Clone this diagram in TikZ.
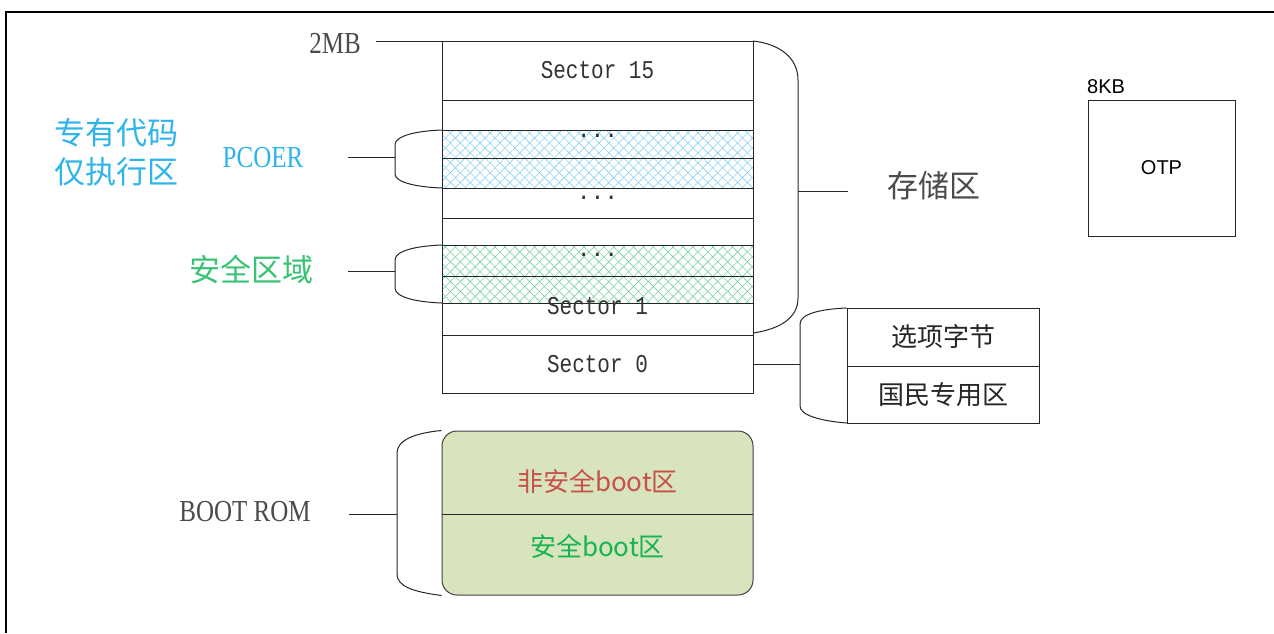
\documentclass[tikz,border=0pt]{standalone}
\usepackage{fontspec}
\setmainfont{Liberation Serif}
\newfontfamily\cjk{Noto Sans CJK SC}
\newfontfamily\lmono{Liberation Mono}
\newfontfamily\lsans{Liberation Sans}
\usetikzlibrary{patterns.meta}
\definecolor{cblue}{RGB}{45,180,235}
\definecolor{cgreen}{RGB}{55,195,115}
\definecolor{cred}{RGB}{200,80,75}
\definecolor{cbootg}{RGB}{20,180,80}
\definecolor{cgray}{RGB}{75,75,75}
\definecolor{bootfill}{RGB}{215,228,189}
\definecolor{hblue}{RGB}{140,210,242}
\definecolor{hgreen}{RGB}{120,210,165}
\newcommand{\tallx}[1]{\scalebox{1}[1.22]{#1}}
\tikzset{
  memrow/.style={draw=black!85, line width=1pt, minimum width=311pt, inner sep=0pt, outer sep=0pt,
    font=\lmono\fontsize{21}{21}\selectfont, text=black!80},
  monotxt/.style={font=\lmono\fontsize{21}{21}\selectfont, text=black!80, inner sep=0pt},
  dotstxt/.style={font=\lmono\fontsize{23}{23}\selectfont, text=black!80, inner sep=0pt},
  hatchB/.style={preaction={pattern={Lines[angle=45,distance=7pt,line width=0.6pt]},pattern color=hblue},
                 preaction={pattern={Lines[angle=-45,distance=7pt,line width=0.6pt]},pattern color=hblue}},
  hatchG/.style={preaction={pattern={Lines[angle=45,distance=7pt,line width=0.6pt]},pattern color=hgreen},
                 preaction={pattern={Lines[angle=-45,distance=7pt,line width=0.6pt]},pattern color=hgreen}},
  brace/.style={draw=black!85, line width=1pt},
  conn/.style={draw=black!85, line width=1pt},
  cjkbig/.style={font=\cjk\fontsize{31}{39}\selectfont, inner sep=0pt},
  cjkmid/.style={font=\cjk\fontsize{26}{26}\selectfont, inner sep=0pt},
  serifl/.style={font=\fontsize{25}{25}\selectfont, inner sep=0pt},
  optbox/.style={draw=black!85, line width=1pt, minimum width=192pt, inner sep=0pt, outer sep=0pt, font=\cjk\fontsize{26}{26}\selectfont, text=black!85},
}
\begin{document}
\begin{tikzpicture}[x=1pt,y=-1pt]
\useasboundingbox (0,0) rectangle (1274,633);
\fill[white] (0,0) rectangle (1274,633);
\draw[line width=2pt] (6,633) -- (6,12) -- (1274,12);

% memory column
\node[memrow, minimum height=59pt] (s15) at (597.5,70.5) {\tallx{Sector 15}};
\node[memrow, minimum height=30pt] (r2) at (597.5,115) {};
\node[memrow, minimum height=28pt, hatchB] (b1) at (597.5,144) {};
\node[memrow, minimum height=30pt, hatchB] (b2) at (597.5,173) {};
\node[memrow, minimum height=30pt] (r5) at (597.5,203) {};
\node[memrow, minimum height=27pt] (r6) at (597.5,231.5) {};
\node[memrow, minimum height=31pt, hatchG] (g1) at (597.5,260.5) {};
\node[memrow, minimum height=27pt, hatchG] (g2) at (597.5,289.5) {};
\node[memrow, minimum height=32pt] (s1) at (597.5,319) {};
\node[memrow, minimum height=58pt] (s0) at (597.5,364) {\tallx{Sector 0}};
\node[dotstxt, anchor=base] (dA) at (597.5,137) {...};
\node[dotstxt, anchor=base] (dB) at (597.5,199) {...};
\node[dotstxt, anchor=base] (dC) at (597.5,256) {...};
\node[monotxt] (s1t) at (597.5,306) {\tallx{Sector 1}};

% 2MB
\node[serifl, text=cgray] (mb) at (335,43) {\tallx{2MB}};
\coordinate (mbl) at (376,41);
\draw[conn] (mbl) -- (s15.north west);

% PCOER
\node[cjkbig, text=cblue, align=left] (zy) at (116,152) {专有代码\\仅执行区};
\node[serifl, text=cblue] (pcoer) at (263,158) {\tallx{PCOER}};
\coordinate (pcl) at (348,157);
\coordinate (pct) at (395,157);
\draw[conn] (pcl) -- (pct);
\draw[brace] (b1.north west) .. controls (415,131) and (395,136) .. (395,145) -- (395,174) .. controls (395,182) and (415,187) .. (b2.south west);

% secure area
\node[cjkbig, text=cgreen] (aq) at (251,270) {安全区域};
\coordinate (aql) at (348,271);
\coordinate (aqt) at (395,271);
\draw[conn] (aql) -- (aqt);
\draw[brace] (g1.north west) .. controls (415,246) and (395,251) .. (395,260) -- (395,288) .. controls (395,297) and (415,302) .. (g2.south west);

% storage brace
\draw[brace] (s15.north east) .. controls (780,44) and (798,58) .. (798,80) -- (798,298) .. controls (798,318) and (780,329) .. (753,333);
\coordinate (cqa) at (798,191);
\coordinate (cqb) at (848,191);
\draw[conn] (cqa) -- (cqb);
\node[cjkbig, text=cgray] (cq) at (934,186) {存储区};

% option bytes
\node[optbox, minimum height=58pt] (opt1) at (943,337) {选项字节};
\node[optbox, minimum height=57pt] (opt2) at (943,394.5) {国民专用区};
\coordinate (opb) at (800,364);
\draw[conn] (s0.east) -- (opb);
\draw[brace] (opt1.north west) .. controls (820,309) and (800,314) .. (800,324) -- (800,406) .. controls (800,415) and (820,421) .. (opt2.south west);

% OTP
\node[draw=black!85, line width=1pt, minimum width=147pt, minimum height=136pt, inner sep=0pt, font=\lsans\fontsize{20}{20}\selectfont] (otp) at (1161.5,168) {OTP};
\node[font=\lsans\fontsize{20}{20}\selectfont, anchor=base west, inner sep=0pt] (kb) at (1087,93) {8KB};

% boot rom
\node[draw=black!75, line width=1pt, rounded corners=15pt, fill=bootfill, minimum width=311pt, minimum height=164pt, inner sep=0pt] (boot) at (597.5,513) {};
\coordinate (bml) at (442,514);
\coordinate (bmr) at (753,514);
\draw[conn] (bml) -- (bmr);
\node[cjkmid, text=cred] (nsb) at (597.5,481) {非安全boot区};
\node[cjkmid, text=cbootg] (sb) at (597.5,546) {安全boot区};
\node[serifl, text=cgray] (br) at (245,512) {\tallx{BOOT ROM}};
\coordinate (brl) at (349,514);
\coordinate (brt) at (397,514);
\draw[conn] (brl) -- (brt);
\draw[brace] (boot.north west) .. controls (415,433) and (397,440) .. (397,453) -- (397,574) .. controls (397,587) and (415,592) .. (boot.south west);
\end{tikzpicture}
\end{document}
